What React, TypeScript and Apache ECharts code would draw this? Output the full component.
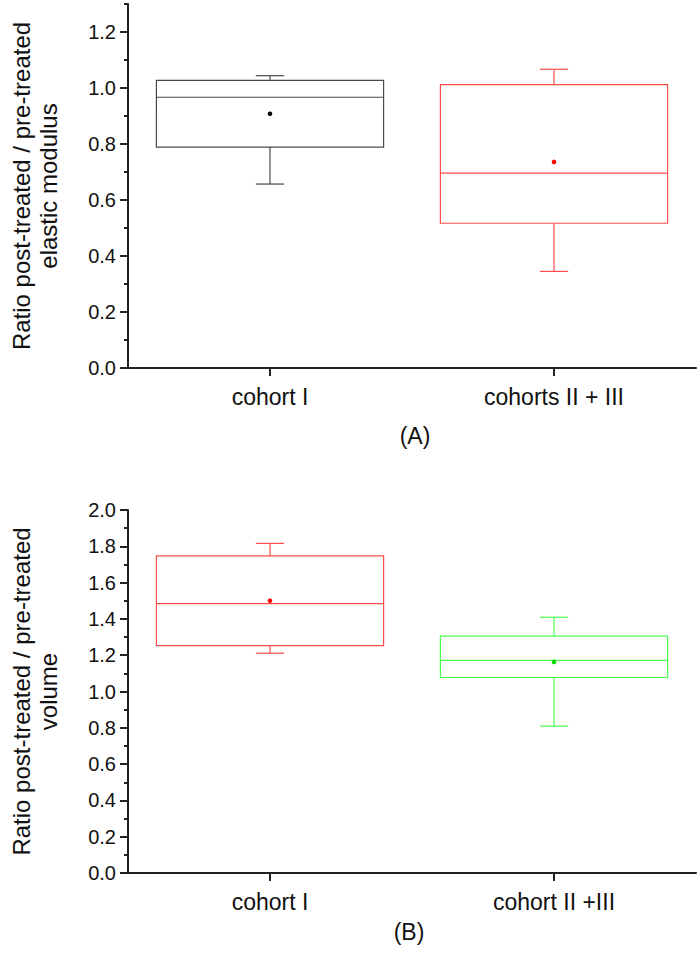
import React, { useEffect, useRef } from "react";
import * as echarts from "echarts";

// ---- data ----
const categoriesA = ["cohort I", "cohorts II + III"];
// [min, q1, median, q3, max]
const boxA = [
  [0.657, 0.789, 0.967, 1.027, 1.044],
  [0.345, 0.517, 0.696, 1.012, 1.067],
];
const meanA = [0.908, 0.736];
const yTicksA = [0, 0.2, 0.4, 0.6, 0.8, 1.0, 1.2];
const yMaxA = 1.3;

const categoriesB = ["cohort I", "cohort II +III"];
const boxB = [
  [1.211, 1.253, 1.484, 1.747, 1.816],
  [0.809, 1.077, 1.172, 1.305, 1.409],
];
const meanB = [1.5, 1.163];
const yTicksB = [0, 0.2, 0.4, 0.6, 0.8, 1.0, 1.2, 1.4, 1.6, 1.8, 2.0];
const yMaxB = 2.0;

const colorsA = ["#4a4a4a", "#ff4d4d"];
const meanColorsA = ["#000000", "#ff0000"];
const colorsB = ["#ff4d4d", "#4dff4d"];
const meanColorsB = ["#ff0000", "#00dd00"];

const FONT = "'Liberation Sans', Arial, sans-serif";
const TXT = "#111";

function makeRender(colors: string[], meanColors: string[]) {
  return (params: any, api: any) => {
    const x = api.value(0);
    const vals = [1, 2, 3, 4, 5, 6].map((i) => api.value(i));
    const pts = vals.map((v) => api.coord([x, v]));
    const cx = pts[0][0];
    const band = api.size([1, 0])[0];
    const half = band * 0.4;
    const cap = band * 0.05;
    const [pMin, pQ1, pMed, pQ3, pMax, pMean] = pts;
    const c = colors[params.dataIndex];
    const st = { stroke: c, lineWidth: 1.2, fill: "none" };
    return {
      type: "group",
      children: [
        {
          type: "rect",
          shape: { x: cx - half, y: pQ3[1], width: half * 2, height: pQ1[1] - pQ3[1] },
          style: { ...st },
        },
        { type: "line", shape: { x1: cx - half, y1: pMed[1], x2: cx + half, y2: pMed[1] }, style: { ...st } },
        { type: "line", shape: { x1: cx, y1: pQ3[1], x2: cx, y2: pMax[1] }, style: { ...st } },
        { type: "line", shape: { x1: cx, y1: pQ1[1], x2: cx, y2: pMin[1] }, style: { ...st } },
        { type: "line", shape: { x1: cx - cap, y1: pMax[1], x2: cx + cap, y2: pMax[1] }, style: { ...st } },
        { type: "line", shape: { x1: cx - cap, y1: pMin[1], x2: cx + cap, y2: pMin[1] }, style: { ...st } },
        {
          type: "circle",
          shape: { cx, cy: pMean[1], r: 2.3 },
          style: { fill: meanColors[params.dataIndex], stroke: "none" },
        },
      ],
    };
  };
}

function yAxes(gridIndex: number, max: number, ticks: number[], name: string) {
  const axisLine = { show: true, onZero: false, lineStyle: { color: "#222", width: 2 } };
  return [
    {
      type: "value",
      gridIndex,
      position: "left",
      min: 0,
      max,
      interval: 0.1,
      axisLine,
      axisTick: { show: true, length: 4, lineStyle: { color: "#222", width: 2 } },
      axisLabel: { show: false },
      splitLine: { show: false },
      name,
      nameLocation: "middle",
      nameGap: 66,
      nameTextStyle: { fontFamily: FONT, fontSize: 24, lineHeight: 27, color: TXT },
    },
    {
      type: "value",
      gridIndex,
      position: "left",
      offset: 0,
      min: 0,
      max,
      interval: 0.1,
      axisLine: { show: false, onZero: false },
      axisTick: { show: true, length: 8, customValues: ticks, lineStyle: { color: "#222", width: 2 } },
      axisLabel: {
        show: true,
        customValues: ticks,
        margin: 12,
        fontFamily: FONT,
        fontSize: 20,
        color: TXT,
        formatter: (v: number) => v.toFixed(1),
      },
      splitLine: { show: false },
    },
  ];
}

function xAxis(gridIndex: number, cats: string[]) {
  return {
    type: "category",
    gridIndex,
    data: cats,
    boundaryGap: true,
    axisLine: { show: true, onZero: false, lineStyle: { color: "#222", width: 2 } },
    axisTick: { show: true, alignWithLabel: true, length: 8, lineStyle: { color: "#222", width: 2 } },
    axisLabel: { margin: 17, fontFamily: FONT, fontSize: 23, color: TXT },
    splitLine: { show: false },
  };
}

export default function App() {
  const ref = useRef<HTMLDivElement>(null);
  useEffect(() => {
    document.body.style.margin = "0";
    const chart = echarts.init(ref.current!, undefined, { renderer: "svg" });
    const dataA = boxA.map((b, i) => [i, ...b, meanA[i]]);
    const dataB = boxB.map((b, i) => [i, ...b, meanB[i]]);
    chart.setOption({
      animation: false,
      backgroundColor: "#ffffff",
      grid: [
        { left: 121, top: 4, width: 575, height: 364 },
        { left: 121, top: 510, width: 575, height: 363 },
      ],
      xAxis: [xAxis(0, categoriesA), xAxis(1, categoriesB)],
      yAxis: [
        ...yAxes(0, yMaxA, yTicksA, "Ratio post-treated / pre-treated\nelastic modulus"),
        ...yAxes(1, yMaxB, yTicksB, "Ratio post-treated / pre-treated\nvolume"),
      ],
      series: [
        {
          type: "custom",
          xAxisIndex: 0,
          yAxisIndex: 0,
          data: dataA,
          encode: { x: 0, y: [1, 2, 3, 4, 5, 6] },
          renderItem: makeRender(colorsA, meanColorsA),
        },
        {
          type: "custom",
          xAxisIndex: 1,
          yAxisIndex: 2,
          data: dataB,
          encode: { x: 0, y: [1, 2, 3, 4, 5, 6] },
          renderItem: makeRender(colorsB, meanColorsB),
        },
      ],
      graphic: [
        {
          type: "text",
          x: 415,
          y: 436,
          style: { text: "(A)", fontFamily: FONT, fontSize: 23, fill: TXT, align: "center", verticalAlign: "middle" },
        },
        {
          type: "text",
          x: 409,
          y: 932,
          style: { text: "(B)", fontFamily: FONT, fontSize: 23, fill: TXT, align: "center", verticalAlign: "middle" },
        },
      ],
    });
    return () => chart.dispose();
  }, []);
  return (
    <div
      ref={ref}
      style={{ position: "fixed", left: 0, top: 0, width: 700, height: 953, background: "#fff" }}
    />
  );
}
